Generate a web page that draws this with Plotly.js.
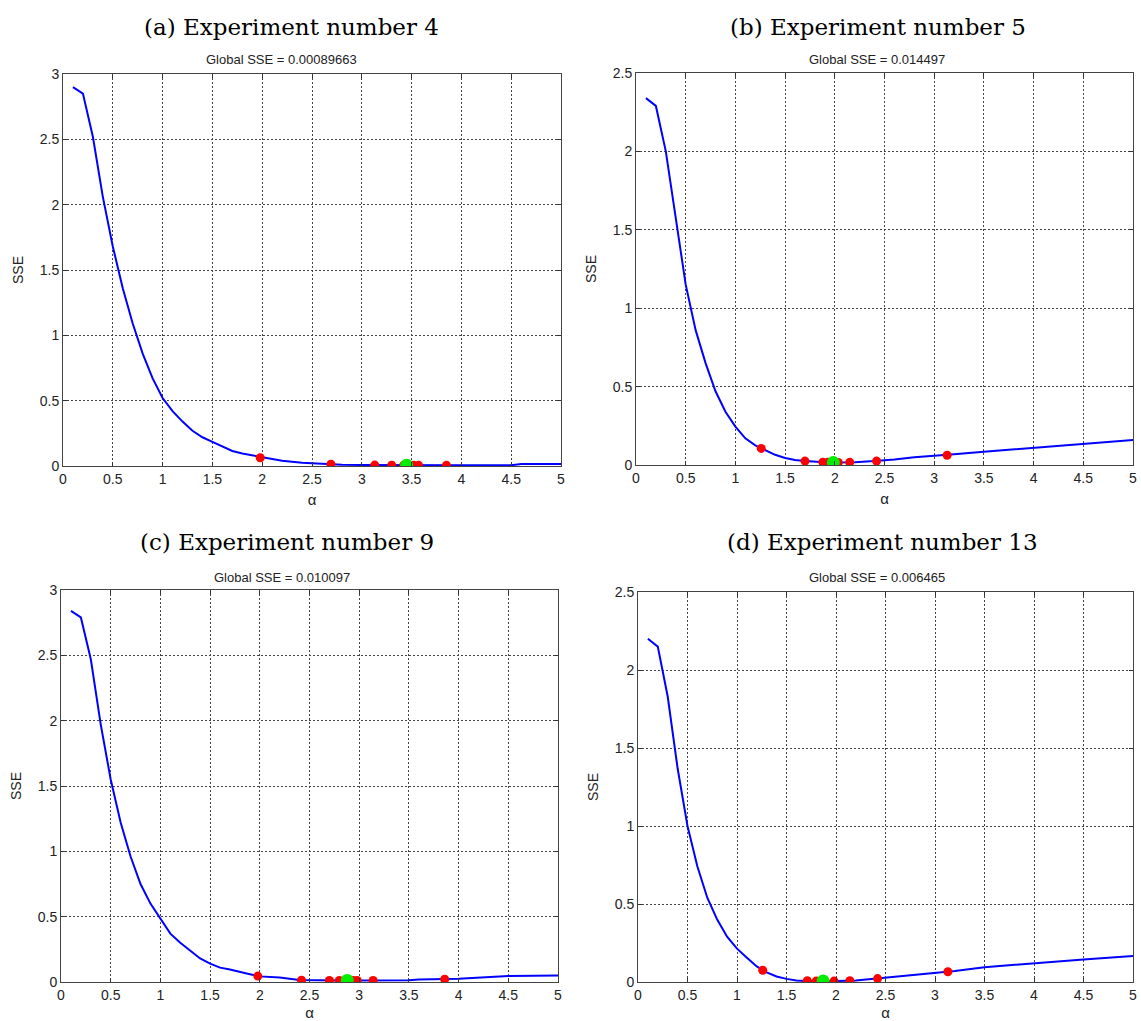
<!DOCTYPE html>
<html>
<head>
<meta charset="utf-8">
<script src="https://cdn.plot.ly/plotly-3.0.1.min.js"></script>
<style>html,body{margin:0;padding:0;background:#fff;}#chart{width:1141px;height:1021px;}</style>
</head>
<body>
<div id="chart"></div>
<script>
// ---- data ----
const panelTitles = ["(a) Experiment number 4", "(b) Experiment number 5", "(c) Experiment number 9", "(d) Experiment number 13"];
const globalSSE = ["Global SSE = 0.00089663", "Global SSE = 0.014497", "Global SSE = 0.010097", "Global SSE = 0.006465"];

const alphaA = [0.1,0.2,0.3,0.4,0.5,0.6,0.7,0.8,0.9,1.0,1.1,1.2,1.3,1.4,1.5,1.6,1.7,1.8,1.9,2.0,2.2,2.4,2.6,2.8,3.0,3.5,4.0,4.5,4.6,5.0];
const sseA   = [2.90,2.85,2.52,2.06,1.68,1.36,1.09,0.86,0.67,0.52,0.42,0.34,0.27,0.22,0.185,0.15,0.115,0.095,0.08,0.065,0.04,0.025,0.015,0.01,0.008,0.005,0.005,0.006,0.015,0.015];
const redAx  = [1.98,2.69,3.13,3.30,3.42,3.52,3.57,3.85];
const redAy  = [0.063,0.013,0.007,0.006,0.005,0.005,0.005,0.005];
const bestAx = [3.45], bestAy = [0.005];

const alphaB = [0.1,0.2,0.3,0.4,0.5,0.6,0.7,0.8,0.9,1.0,1.1,1.2,1.3,1.4,1.5,1.6,1.7,1.8,1.9,2.0,2.2,2.4,2.6,2.8,3.0,3.2,3.5,4.0,4.5,5.0];
const sseB   = [2.34,2.29,2.0,1.57,1.15,0.86,0.65,0.47,0.34,0.245,0.17,0.125,0.095,0.065,0.045,0.032,0.025,0.02,0.017,0.016,0.018,0.025,0.035,0.05,0.058,0.068,0.085,0.11,0.135,0.16];
const redBx  = [1.26,1.70,1.88,1.93,2.035,2.15,2.42,3.13];
const redBy  = [0.106,0.025,0.018,0.017,0.016,0.017,0.025,0.062];
const bestBx = [1.985], bestBy = [0.016];

const alphaC = [0.1,0.2,0.3,0.4,0.5,0.6,0.7,0.8,0.9,1.0,1.1,1.2,1.3,1.4,1.5,1.6,1.7,1.8,1.9,2.0,2.2,2.4,2.6,2.8,3.0,3.2,3.5,3.6,4.0,4.5,5.0];
const sseC   = [2.84,2.79,2.47,1.97,1.55,1.22,0.96,0.75,0.60,0.485,0.37,0.30,0.24,0.18,0.14,0.11,0.095,0.08,0.06,0.043,0.035,0.015,0.012,0.012,0.012,0.012,0.013,0.02,0.025,0.045,0.05];
const redCx  = [1.98,2.42,2.70,2.80,2.94,2.98,3.14,3.86];
const redCy  = [0.045,0.013,0.012,0.012,0.012,0.012,0.012,0.022];
const bestCx = [2.88], bestCy = [0.012];

const alphaD = [0.1,0.2,0.3,0.4,0.5,0.6,0.7,0.8,0.9,1.0,1.1,1.2,1.3,1.4,1.5,1.6,1.7,1.8,2.0,2.2,2.4,2.6,2.8,3.0,3.2,3.5,4.0,4.5,5.0];
const sseD   = [2.20,2.15,1.83,1.37,1.0,0.74,0.54,0.40,0.29,0.214,0.156,0.10,0.062,0.035,0.02,0.01,0.007,0.006,0.006,0.01,0.022,0.033,0.045,0.058,0.07,0.095,0.122,0.145,0.167];
const redDx  = [1.26,1.71,1.80,1.98,2.14,2.42,3.13];
const redDy  = [0.075,0.008,0.006,0.006,0.008,0.022,0.066];
const bestDx = [1.87], bestDy = [0.006];

const xTickVals = [0,0.5,1,1.5,2,2.5,3,3.5,4,4.5,5];
const xTickText = ["0","0.5","1","1.5","2","2.5","3","3.5","4","4.5","5"];
const yTickVals3 = [0,0.5,1,1.5,2,2.5,3];
const yTickText3 = ["0","0.5","1","1.5","2","2.5","3"];
const yTickVals25 = [0,0.5,1,1.5,2,2.5];
const yTickText25 = ["0","0.5","1","1.5","2","2.5"];

// ---- build ----
const series = [
  {x: alphaA, y: sseA, rx: redAx, ry: redAy, gx: bestAx, gy: bestAy},
  {x: alphaB, y: sseB, rx: redBx, ry: redBy, gx: bestBx, gy: bestBy},
  {x: alphaC, y: sseC, rx: redCx, ry: redCy, gx: bestCx, gy: bestCy},
  {x: alphaD, y: sseD, rx: redDx, ry: redDy, gx: bestDx, gy: bestDy}
];
const traces = [];
series.forEach((s, i) => {
  const xa = i === 0 ? 'x' : 'x' + (i + 1);
  const ya = i === 0 ? 'y' : 'y' + (i + 1);
  traces.push({x: s.x, y: s.y, xaxis: xa, yaxis: ya, mode: 'lines', type: 'scatter',
    line: {color: '#0000ff', width: 2}, hoverinfo: 'skip'});
  traces.push({x: s.rx, y: s.ry, xaxis: xa, yaxis: ya, mode: 'markers', type: 'scatter',
    marker: {color: '#ff0000', size: 9}, hoverinfo: 'skip'});
  traces.push({x: s.gx, y: s.gy, xaxis: xa, yaxis: ya, mode: 'markers', type: 'scatter',
    marker: {color: '#00ee00', size: 13}, hoverinfo: 'skip'});
});

const W = 1141, H = 1021;
const boxes = [ // left, right, top, bottom in px
  [63, 561, 74, 466],
  [636, 1133, 73, 465],
  [61, 558, 590, 982],
  [638, 1133, 592, 982]
];
const yRanges = [[0,3],[0,2.5],[0,3],[0,2.5]];
const tickFont = {family: 'Arial, Liberation Sans, sans-serif', size: 14, color: '#222'};

const layout = {
  width: W, height: H, margin: {l: 0, r: 0, t: 0, b: 0},
  paper_bgcolor: '#fff', plot_bgcolor: '#fff', showlegend: false,
  annotations: []
};
boxes.forEach((b, i) => {
  const sx = i === 0 ? '' : String(i + 1);
  const big = yRanges[i][1] === 3;
  layout['xaxis' + sx] = {
    domain: [b[0] / W, b[1] / W], anchor: 'y' + sx, range: [0, 5],
    tickvals: xTickVals, ticktext: xTickText, ticks: 'inside', ticklen: 4, tickcolor: '#333',
    showline: true, linecolor: '#444', linewidth: 1, mirror: 'ticks',
    showgrid: true, gridcolor: '#444', griddash: '2px,2px', gridwidth: 1, zeroline: false,
    tickfont: tickFont,
    title: {text: 'α', font: {family: 'Arial, Liberation Sans, sans-serif', size: 15, color: '#222'}, standoff: 8}
  };
  layout['yaxis' + sx] = {
    domain: [1 - b[3] / H, 1 - b[2] / H], anchor: 'x' + sx, range: yRanges[i],
    tickvals: big ? yTickVals3 : yTickVals25, ticktext: big ? yTickText3 : yTickText25,
    ticks: 'inside', ticklen: 4, tickcolor: '#333',
    showline: true, linecolor: '#444', linewidth: 1, mirror: 'ticks',
    showgrid: true, gridcolor: '#444', griddash: '2px,2px', gridwidth: 1, zeroline: false,
    tickfont: tickFont,
    title: {text: 'SSE', font: {family: 'Arial, Liberation Sans, sans-serif', size: 14, color: '#222'}, standoff: 12}
  };
});

const titlePos = [[291, 27, 281, 60], [878, 27, 877, 60], [287, 542, 282, 577], [882, 542, 877, 577]];
titlePos.forEach((p, i) => {
  layout.annotations.push({text: panelTitles[i], xref: 'paper', yref: 'paper', x: p[0] / W, y: 1 - p[1] / H,
    xanchor: 'center', yanchor: 'middle', showarrow: false,
    font: {family: 'DejaVu Serif, serif', size: 23, color: '#000'}});
  layout.annotations.push({text: globalSSE[i], xref: 'paper', yref: 'paper', x: p[2] / W, y: 1 - p[3] / H,
    xanchor: 'center', yanchor: 'middle', showarrow: false,
    font: {family: 'Arial, Liberation Sans, sans-serif', size: 13, color: '#222'}});
});

Plotly.newPlot('chart', traces, layout, {displayModeBar: false, staticPlot: true});
</script>
</body>
</html>
